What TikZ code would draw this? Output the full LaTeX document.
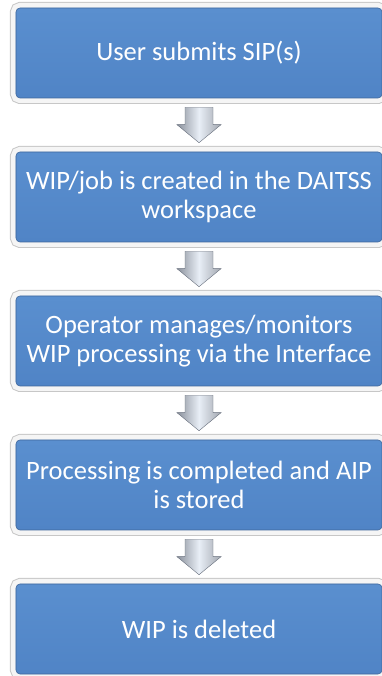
\documentclass[tikz,border=0pt]{standalone}
\usepackage{fontspec}
\setmainfont{Carlito}
\usepackage{xcolor}
\usetikzlibrary{calc}

\definecolor{boxtop}{RGB}{90,143,207}
\definecolor{boxbottom}{RGB}{80,132,198}
\definecolor{boxedge}{RGB}{62,102,155}
\definecolor{arrowdark}{RGB}{100,108,122}
\definecolor{arrowlight}{RGB}{232,238,246}

\begin{document}
\begin{tikzpicture}[x=1bp,y=1bp,
	flow/.style={
		draw=arrowdark, line width=0.4bp,
		left color=arrowdark!75, right color=arrowdark!60, middle color=arrowlight,
		to path={
			($(\tikztostart)+(-14,-9)$) -- ($(\tikztotarget)+(-14,27)$)
			-- ($(\tikztotarget)+(-22,27)$) -- ($(\tikztotarget)+(0,9)$)
			-- ($(\tikztotarget)+(22,27)$) -- ($(\tikztotarget)+(14,27)$)
			-- ($(\tikztostart)+(14,-9)$) -- cycle}
	}]
	%\draw[help lines] (0,0) grid (381,676);
	\useasboundingbox (0,0) rectangle (381,676);
	\tikzstyle{stepbox} = [rectangle,rounded corners=4bp,minimum width=366bp,minimum height=90bp,inner sep=0pt,
		top color=boxtop,bottom color=boxbottom,draw=boxedge,line width=0.6bp,text=white,align=center,
		font=\fontsize{26.5bp}{28.5bp}\selectfont,
		preaction={draw=black!22,line width=12bp},preaction={draw=black!4,line width=10bp}]

	\node[stepbox] (a) at (199,623) {User submits SIP(s)};
	\node[stepbox] (b) at (199,479) {WIP/job is created in the DAITSS\\workspace};
	\node[stepbox] (c) at (199,335) {Operator manages/monitors\\WIP processing via the Interface};
	\node[stepbox] (d) at (199,191) {Processing is completed and AIP\\is stored};
	\node[stepbox] (e) at (199,47) {WIP is deleted};

	\draw (a.south) edge [flow] (b.north);
	\draw (b.south) edge [flow] (c.north);
	\draw (c.south) edge [flow] (d.north);
	\draw (d.south) edge [flow] (e.north);

\end{tikzpicture}
\end{document}
